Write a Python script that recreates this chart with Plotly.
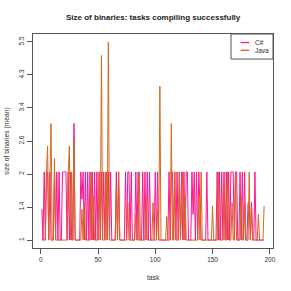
import numpy as np
import plotly.graph_objects as go

# ---- data ----
tasks = list(range(1, 196))

csharp = [
    1.4, 1, 2, 1, 2, 2, 1, 2, 1, 1,          # 1-10
    1, 2, 1, 2, 1, 2, 1, 1, 2, 2,            # 11-20
    2, 2, 1, 2, 1, 2, 1, 1, 3.0, 1,          # 21-30
    1, 1, 1, 1, 2, 1.55, 2, 1, 2, 1,         # 31-40
    2, 1, 2, 1, 2, 1, 2, 1, 2, 1,            # 41-50
    2, 1, 2, 1, 2, 1, 2, 1, 2, 1,            # 51-60
    2, 1, 1, 1, 1, 2, 1, 2, 1, 1,            # 61-70
    1, 1, 1, 2, 1, 2, 2, 1, 2, 1,            # 71-80
    1, 1, 2, 1, 2, 1, 1, 1, 2, 1,            # 81-90
    2, 1, 2, 1, 2, 1, 1, 1, 1, 2,            # 91-100
    1, 2, 1, 1, 1, 1, 1, 1, 1, 1,            # 101-110
    1, 2, 1, 2, 2, 1, 2, 1, 2, 1,            # 111-120
    2, 1, 2, 1, 2, 1, 2, 2, 1, 1,            # 121-130
    1, 2, 1.33, 2, 1, 2, 1, 2, 1.33, 1,      # 131-140
    1, 1, 1, 1, 2, 1, 1, 1, 1, 1,            # 141-150
    1, 1, 1, 2, 1, 2, 1, 2, 1, 2,            # 151-160
    1, 2, 1, 2, 1, 2, 2, 2, 1, 2,            # 161-170
    2, 1, 1, 2, 1, 2, 1, 2, 1, 1,            # 171-180
    1.5, 1.5, 1, 1.5, 1, 1, 2, 1, 1, 1,      # 181-190
    1, 1, 1, 1, 1,                           # 191-195
]

java = [
    1, 1, 1, 1, 2, 2.5, 1, 2, 3.0, 1,        # 1-10
    1, 2.25, 1, 1, 1, 1, 1, 1, 1, 1,         # 11-20
    1, 1, 1, 2, 2.5, 1, 2, 1, 2.7, 1,        # 21-30
    1, 1, 1, 1, 1, 1.4, 1, 1.5, 1, 1,        # 31-40
    1, 1, 1, 2, 1, 1.6, 1, 1, 1, 1,          # 41-50
    2, 1, 5.0, 1, 1, 1, 2, 1, 5.5, 1,        # 51-60
    1, 1, 1, 1, 1, 1.75, 1, 2, 1, 1,         # 61-70
    1, 1, 1, 1, 1, 1.5, 1, 1, 1, 1,          # 71-80
    1, 1, 1.33, 1, 1, 2, 1, 1, 1, 1,         # 81-90
    1, 1.6, 1, 1, 1, 1, 1, 1.5, 1, 1,        # 91-100
    1, 1.4, 1, 4.0, 1, 1, 1, 1, 1, 1.3,      # 101-110
    1, 1, 1, 3.0, 1, 1, 2, 1, 1, 1,          # 111-120
    2, 1, 1.5, 2, 1, 1.6, 1, 1, 1, 1,        # 121-130
    1, 1, 1, 1, 1, 1, 1, 1.6, 1, 2,          # 131-140
    1, 1, 1, 1, 1, 1, 1, 1, 1, 1.45,         # 141-150
    1, 1, 1, 1, 2, 1, 1, 1, 1, 1.8,          # 151-160
    1, 1, 2, 1, 1, 1, 1.5, 1, 1, 2,          # 161-170
    1, 1, 1, 1, 1.6, 1, 1, 1.5, 1, 1,        # 171-180
    1, 2, 1, 1.45, 1, 1, 1, 1, 1, 1.33,      # 181-190
    1, 1, 1, 1, 1.45,                        # 191-195
]

series_names = ["C#", "Java"]
series_colors = ["#FF1493", "#D2691E"]

x_ticks = [0, 50, 100, 150, 200]
y_tick_labels = ["1", "1.4", "2", "2.6", "3.4", "4.3", "5.5"]

# y axis uses a log(1 + value) scale, ticks evenly spaced on that scale
y_lo, y_hi = np.log1p(1.0), np.log1p(5.5)
y_tickvals = np.linspace(y_lo, y_hi, len(y_tick_labels))
pad_y = 0.04 * (y_hi - y_lo)
x_min, x_max = min(tasks), max(tasks)
pad_x = 0.04 * (x_max - x_min)

FONT = "Liberation Sans, Arial, sans-serif"
AX = "#555555"

fig = go.Figure()
for name, vals, col in zip(series_names, [csharp, java], series_colors):
    fig.add_trace(go.Scatter(
        x=tasks, y=np.log1p(np.array(vals, dtype=float)),
        mode="lines", name=name, line=dict(color=col, width=1),
        showlegend=False, hoverinfo="skip"))

fig.update_layout(
    width=291, height=291,
    margin=dict(l=33, r=18, t=34, b=43),
    paper_bgcolor="white", plot_bgcolor="white",
    font=dict(family=FONT, size=7, color="#333333"),
    showlegend=False,
)
fig.update_xaxes(
    range=[x_min - pad_x, x_max + pad_x],
    tickvals=x_ticks, ticktext=[str(v) for v in x_ticks],
    ticks="outside", ticklen=5, tickcolor=AX, tickwidth=1,
    showline=True, linecolor=AX, linewidth=1, mirror=True,
    showgrid=False, zeroline=False,
    tickfont=dict(size=6.5, color="#333333"),
)
fig.update_yaxes(
    range=[y_lo - pad_y, y_hi + pad_y],
    tickvals=list(y_tickvals), ticktext=y_tick_labels,
    tickangle=-90,
    ticks="outside", ticklen=5, tickcolor=AX, tickwidth=1,
    showline=True, linecolor=AX, linewidth=1, mirror=True,
    showgrid=False, zeroline=False,
    tickfont=dict(size=6.5, color="#333333"),
)

# Title and axis titles
fig.add_annotation(text="<b>Size of binaries: tasks compiling successfully</b>",
                   xref="paper", yref="paper", x=0.5, y=1, yshift=17,
                   yanchor="middle", xanchor="center", showarrow=False,
                   font=dict(size=8, color="#222222"))
fig.add_annotation(text="task", xref="paper", yref="paper", x=0.5, y=0,
                   yshift=-29, yanchor="middle", showarrow=False,
                   font=dict(size=6.7, color="#333333"))
fig.add_annotation(text="size of binaries (mean)", xref="paper", yref="paper",
                   x=0, xshift=-26, y=0.5, textangle=-90, xanchor="center",
                   showarrow=False, font=dict(size=6.7, color="#333333"))

# Legend box (top-right, inside the plot)
lx0, lx1, ly0, ly1 = 0.825, 1.0, 0.883, 1.0
fig.add_shape(type="rect", xref="paper", yref="paper", x0=lx0, x1=lx1,
              y0=ly0, y1=ly1, line=dict(color=AX, width=1),
              fillcolor="white", layer="above")
for i, (name, col) in enumerate(zip(series_names, series_colors)):
    yy = ly1 - 0.04 - i * 0.036
    fig.add_shape(type="line", xref="paper", yref="paper",
                  x0=lx0 + 0.04, x1=lx0 + 0.076, y0=yy, y1=yy,
                  line=dict(color=col, width=1.3), layer="above")
    fig.add_annotation(text=name, xref="paper", yref="paper",
                       x=lx0 + 0.092, y=yy, xanchor="left", yanchor="middle",
                       showarrow=False, font=dict(size=6.5, color="#333333"))

fig.write_html("out.html", config={"displayModeBar": False},
               post_script="document.body.style.margin='0px';document.body.style.overflow='hidden';")
